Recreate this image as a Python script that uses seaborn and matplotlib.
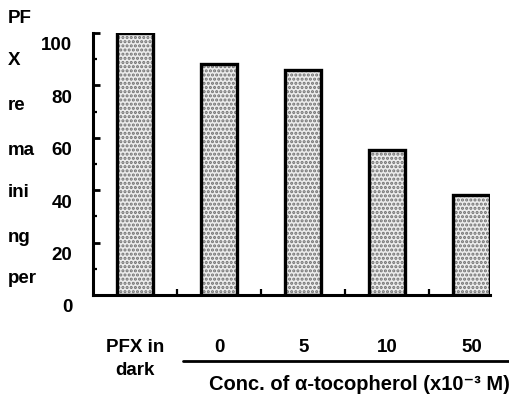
import seaborn as sns
import matplotlib.pyplot as plt
import matplotlib.transforms as mtransforms
from matplotlib.lines import Line2D
import pandas as pd

sns.set_style("ticks", {"axes.edgecolor": "black", "text.color": "black",
                        "xtick.color": "black", "ytick.color": "black",
                        "axes.labelcolor": "black"})
plt.rcParams['font.family'] = ['Liberation Sans', 'DejaVu Sans']
plt.rcParams['font.weight'] = 'bold'
plt.rcParams['hatch.linewidth'] = 1.5

# data
groups = ["PFX in\ndark", "0", "5", "10", "50"]
remaining = [100, 88, 86, 55.5, 38]
yticks = [0, 20, 40, 60, 80, 100]
ylabel_parts = ["PF", "X", "re", "ma", "ini", "ng", "per"]
xlabel = "Conc. of \u03b1-tocopherol (x10\u207b\u00b3 M)"

df = pd.DataFrame({"group": groups, "value": remaining})

fig = plt.figure(figsize=(5.09, 4.05), dpi=100)
ax = fig.add_axes([93 / 509, 1 - 295 / 405, 397 / 509, 262 / 405])

# stippled fill, then a heavy black outline on top
sns.barplot(data=df, x="group", y="value", ax=ax, width=0.43,
            color="#ececec", edgecolor="#707070", linewidth=0, hatch="....",
            saturation=1)
sns.barplot(data=df, x="group", y="value", ax=ax, width=0.43,
            fill=False, edgecolor="black", linewidth=2.4)

ax.set_ylim(0, 100)
ax.set_xlim(-0.5, 4.22)
sns.despine(ax=ax)
ax.spines['left'].set_linewidth(2.2)
ax.spines['bottom'].set_linewidth(2.2)

ax.set_yticks(yticks)
ax.set_yticks([10, 30, 50, 70, 90], minor=True)
ax.tick_params(axis='y', which='major', direction='in', length=5, width=2,
               labelsize=13.5, pad=15)
ax.tick_params(axis='y', which='minor', direction='in', length=3, width=1.6)
shift = mtransforms.ScaledTranslation(0, -11 / 100, fig.dpi_scale_trans)
for lab in ax.get_yticklabels():
    lab.set_transform(lab.get_transform() + shift)
    lab.set_fontweight('bold')

ax.set_xticks(range(len(groups)))
ax.set_xticklabels(groups, fontsize=13.5, fontweight='bold', linespacing=1.45)
ax.set_xticks([0.5, 1.5, 2.5, 3.5], minor=True)
ax.tick_params(axis='x', which='major', length=0, pad=32)
ax.tick_params(axis='x', which='minor', direction='in', length=4, width=1.6)
ax.set_xlabel("")
ax.set_ylabel("")

# broken-up y axis title on the left
for part, base in zip(ylabel_parts, [23, 65, 110, 155, 197, 242, 283]):
    fig.text(8 / 509, 1 - base / 405, part, fontsize=13.5, fontweight='bold',
             ha='left', va='baseline')

# group bracket line and concentration label
fig.add_artist(Line2D([183 / 509, 1.0], [1 - 361 / 405] * 2, color='black', lw=2))
fig.text(359 / 509, 1 - 385 / 405, xlabel, fontsize=14.5, fontweight='bold',
         ha='center', va='center')

fig.savefig("out.png", dpi=100)
